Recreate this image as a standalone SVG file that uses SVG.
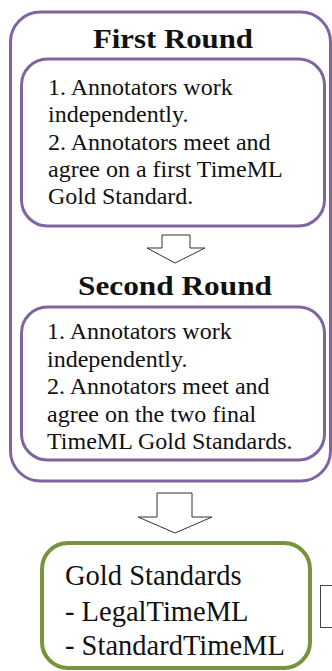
<svg xmlns="http://www.w3.org/2000/svg" width="332" height="671" viewBox="0 0 332 671">
<style>
.purple{fill:none;stroke:#8064A2;stroke-width:3}
.green{fill:#fff;stroke:#77933C;stroke-width:4}
.arrow{fill:#fff;stroke:#333;stroke-width:1}
text{font-family:'Liberation Serif','Times New Roman','DejaVu Serif',serif;fill:#111}
.title{font-weight:bold;font-size:27px;text-anchor:middle}
.body{font-size:24px}
.gold{font-size:28.5px}
</style>
<rect width="332" height="671" fill="#fff"/>
<g id="outer">
<rect class="purple" x="10.5" y="12" width="320" height="469" rx="30"/>
</g>
<g id="first-round-title">
<text class="title" x="173" y="48" textLength="160" lengthAdjust="spacingAndGlyphs">First Round</text>
</g>
<g id="first-round">
<rect class="purple" x="21.5" y="59" width="303" height="167" rx="26"/>
<text class="body">
<tspan x="48" y="95">1. Annotators work</tspan>
<tspan x="48" y="122.3">independently.</tspan>
<tspan x="48" y="149.6">2. Annotators meet and</tspan>
<tspan x="48" y="176.9">agree on a first TimeML</tspan>
<tspan x="48" y="204.2">Gold Standard.</tspan>
</text>
</g>
<g id="second-round-title">
<text class="title" x="175" y="295" textLength="194" lengthAdjust="spacingAndGlyphs">Second Round</text>
</g>
<g id="second-round">
<rect class="purple" x="21.5" y="307" width="303" height="153" rx="26"/>
<text class="body">
<tspan x="47" y="339">1. Annotators work</tspan>
<tspan x="47" y="366.5">independently.</tspan>
<tspan x="47" y="394">2. Annotators meet and</tspan>
<tspan x="47" y="421.5">agree on the two final</tspan>
<tspan x="47" y="449">TimeML Gold Standards.</tspan>
</text>
</g>
<g id="gold-standards">
<rect class="green" x="42" y="543" width="268" height="125" rx="26"/>
<text class="gold">
<tspan x="65" y="585">Gold Standards</tspan>
<tspan x="65" y="621">- LegalTimeML</tspan>
<tspan x="65" y="655">- StandardTimeML</tspan>
</text>
</g>
<g id="partial-box">
<rect x="320.5" y="585.5" width="20" height="42" fill="#fff" stroke="#444" stroke-width="1"/>
</g>
<g id="connectors">
<polygon class="arrow" points="162,235 190,235 190,248 205,248 175,263 147,248 162,248"/>
<polygon class="arrow" points="157,493 192,493 192,517 212,517 175,533 138,517 157,517"/>
</g>
</svg>
